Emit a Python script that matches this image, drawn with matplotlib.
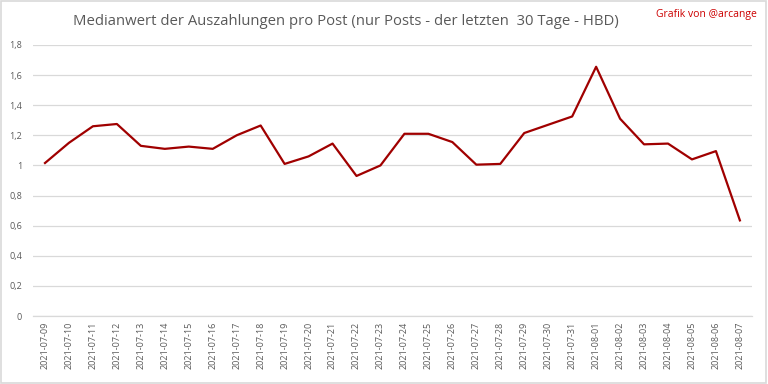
import matplotlib
matplotlib.use("Agg")
import matplotlib.pyplot as plt
from matplotlib.ticker import FuncFormatter

dates = ["2021-07-09", "2021-07-10", "2021-07-11", "2021-07-12", "2021-07-13", "2021-07-14",
         "2021-07-15", "2021-07-16", "2021-07-17", "2021-07-18", "2021-07-19", "2021-07-20",
         "2021-07-21", "2021-07-22", "2021-07-23", "2021-07-24", "2021-07-25", "2021-07-26",
         "2021-07-27", "2021-07-28", "2021-07-29", "2021-07-30", "2021-07-31", "2021-08-01",
         "2021-08-02", "2021-08-03", "2021-08-04", "2021-08-05", "2021-08-06", "2021-08-07"]
values = [1.016, 1.15, 1.26, 1.275, 1.13, 1.11, 1.125, 1.11, 1.20, 1.265, 1.01, 1.06,
          1.145, 0.93, 1.0, 1.21, 1.21, 1.155, 1.005, 1.01, 1.215, 1.27, 1.325, 1.655,
          1.31, 1.14, 1.145, 1.04, 1.095, 0.635]
yticks = [0, 0.2, 0.4, 0.6, 0.8, 1.0, 1.2, 1.4, 1.6, 1.8]

plt.rcParams['font.family'] = ['Open Sans', 'DejaVu Sans']

fig = plt.figure(figsize=(7.68, 3.84), dpi=100)
fig.patch.set_facecolor('white')
ax = fig.add_axes([0.043, 0.177, 0.936, 0.706])

x = list(range(len(dates)))
ax.plot(x, values, color='#a00000', linewidth=1.6, zorder=3)

ax.set_xlim(-0.5, len(dates) - 0.5)
ax.set_ylim(0, 1.8)
ax.set_yticks(yticks)
ax.yaxis.set_major_formatter(FuncFormatter(lambda v, p: ("%g" % round(v, 1)).replace('.', ',')))
ax.set_xticks(x)
ax.set_xticklabels(dates, rotation=90, fontsize=6.5, color='#595959')
ax.tick_params(axis='y', labelsize=6.5, labelcolor='#595959', length=0, pad=8)
ax.tick_params(axis='x', length=0, pad=4)
ax.grid(axis='y', color='#d9d9d9', linewidth=0.9, zorder=0)
for s in ['top', 'right', 'left']:
    ax.spines[s].set_visible(False)
ax.spines['bottom'].set_color('#d9d9d9')
ax.spines['bottom'].set_linewidth(0.9)

fig.text(0.45, 0.945, "Medianwert der Auszahlungen pro Post (nur Posts - der letzten  30 Tage - HBD)",
         ha='center', va='center', fontsize=10.7, color='#595959')
fig.text(0.986, 0.963, "Grafik von @arcange", ha='right', va='center', fontsize=7.5, color='#cc0000')

border = plt.Rectangle((0.001, 0.002), 0.997, 0.995, transform=fig.transFigure,
                       fill=False, edgecolor='#d9d9d9', linewidth=1.2)
fig.patches.append(border)

fig.savefig('out.png', dpi=100)
